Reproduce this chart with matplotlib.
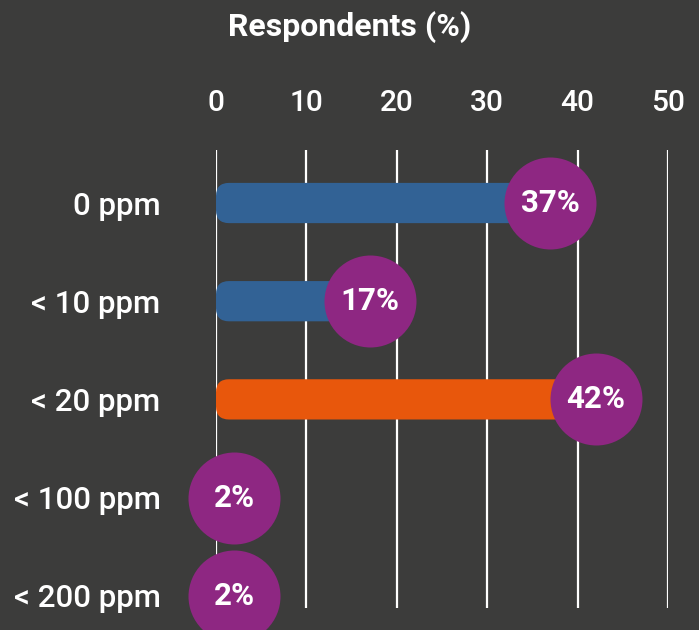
import matplotlib.pyplot as plt
from matplotlib.patches import FancyBboxPatch

# survey answers, top row first
categories = ['0 ppm', '< 10 ppm', '< 20 ppm', '< 100 ppm', '< 200 ppm']
respondents = [37, 17, 42, 2, 2]
bar_colors = ['#326295', '#326295', '#E8570C', '#326295', '#326295']
x_ticks = [0, 10, 20, 30, 40, 50]

BG = '#3C3C3B'
PURPLE = '#8E2782'

plt.rcParams['font.family'] = ['Roboto', 'DejaVu Sans']

W, H, DPI = 699, 630, 100
fig = plt.figure(figsize=(W / DPI, H / DPI), dpi=DPI, facecolor=BG)
ax_l, ax_b, ax_w, ax_h = 216 / W, 22 / H, 452 / W, 458 / H
ax = fig.add_axes([ax_l, ax_b, ax_w, ax_h])
ax.set_facecolor(BG)

ymin, ymax = -0.54, 4.125
ax.set_xlim(0, 50)
ax.set_ylim(ymax, ymin)

# pixel size of one data unit, used to keep the bar corners circular
px_x = ax_w * W / 50
px_y = ax_h * H / (ymax - ymin)
radius_px = 13
bar_h = 0.41

for i, (v, c) in enumerate(zip(respondents, bar_colors)):
    box = FancyBboxPatch((0, i - bar_h / 2), v, bar_h,
                         boxstyle=f'round,pad=0,rounding_size={radius_px / px_x}',
                         mutation_aspect=px_x / px_y,
                         fc=c, ec='none', zorder=2)
    ax.add_patch(box)

# purple value bubbles at the end of each bar
ypos = list(range(len(categories)))
diam_pt = 92 * 72 / DPI
ax.scatter(respondents, ypos, s=diam_pt ** 2, color=PURPLE, zorder=3,
           clip_on=False, linewidths=0)
for i, v in enumerate(respondents):
    ax.text(v, i, f'{v}%', ha='center', va='center', color='white',
            fontsize=22.5, fontweight='bold', zorder=4)

ax.set_yticks(ypos)
ax.set_yticklabels(categories)
ax.set_xticks(x_ticks)
ax.xaxis.tick_top()
ax.tick_params(axis='x', length=0, pad=24, labelsize=21.5, colors='white')
ax.tick_params(axis='y', length=0, pad=40, labelsize=22.5, colors='white')
for lbl in ax.get_yticklabels() + ax.get_xticklabels():
    lbl.set_fontweight('medium')

ax.grid(axis='x', color='white', linewidth=1.6, zorder=1)
ax.grid(axis='y', visible=False)
ax.set_axisbelow(True)
for s in ax.spines.values():
    s.set_visible(False)

fig.text(0.5, 1 - 27 / H, 'Respondents (%)', ha='center', va='center',
         color='white', fontsize=23, fontweight='bold')

fig.savefig('out.png', dpi=DPI, facecolor=BG)
